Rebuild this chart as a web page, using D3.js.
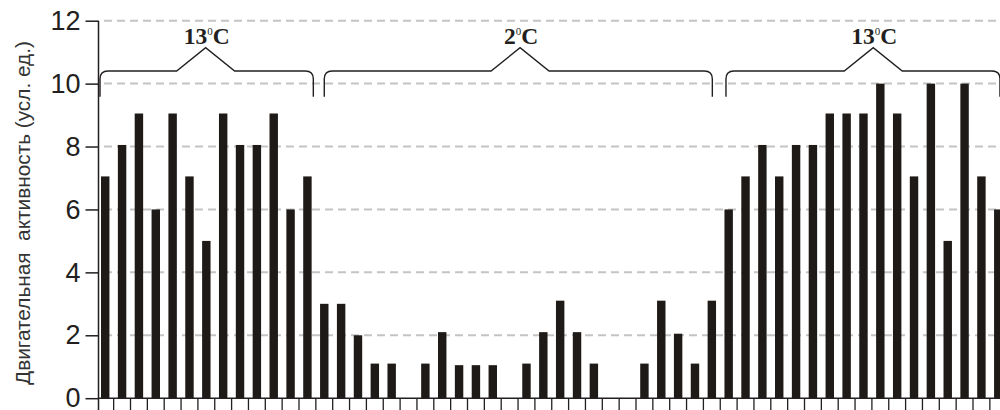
<!DOCTYPE html>
<html>
<head>
<meta charset="utf-8">
<script src="https://cdn.jsdelivr.net/npm/d3@7"></script>
<style>
  body { margin: 0; background: #fff; }
  svg { display: block; }
</style>
</head>
<body>
<div id="chart"></div>
<script>
// bar values (motor activity, arbitrary units)
const activity = [
  7.05, 8.05, 9.05, 6, 9.05, 7.05, 5, 9.05, 8.05, 8.05, 9.05, 6, 7.05,
  3, 3, 2, 1.1, 1.1, 0, 1.1, 2.1, 1.05, 1.05, 1.05, 0, 1.1, 2.1, 3.1, 2.1, 1.1, 0, 0, 1.1, 3.1, 2.05, 1.1, 3.1,
  6, 7.05, 8.05, 7.05, 8.05, 8.05, 9.05, 9.05, 9.05, 10, 9.05, 7.05, 10, 5, 10, 7.05, 6
];
const yTicks = [0, 2, 4, 6, 8, 10, 12];
const yLabel = 'Двигательная  активность (усл. ед.)';

// temperature periods (brace extents in bar-index units)
const periodTemp = ['13', '2', '13'];
const braceStart = [-0.31, 13.0, 36.84];
const braceEnd = [12.35, 36.03, 53.1];
const braceTip = [5.96, 24.62, 45.58];

const width = 1000;
const height = 410;
const ink = '#231f20';

const svg = d3.select('#chart')
  .append('svg')
  .attr('width', width)
  .attr('height', height);

// scales
const x = d3.scaleBand()
  .domain(d3.range(activity.length))
  .range([96.8, 96.8 + activity.length * 16.85])
  .paddingInner(0.5)
  .paddingOuter(0.25);

// index -> bar centre
const xi = d3.scaleLinear()
  .domain([0, 1])
  .range([x(0) + x.bandwidth() / 2, x(1) + x.bandwidth() / 2]);

const y = d3.scaleLinear()
  .domain([0, 12])
  .range([398.2, 20.7]);

const axisX = 98.5;

// grid lines
svg.append('g')
  .selectAll('line')
  .data(yTicks.filter(d => d > 0))
  .enter()
  .append('line')
  .attr('x1', 104)
  .attr('x2', width)
  .attr('y1', d => y(d))
  .attr('y2', d => y(d))
  .style('stroke', '#c4c4c4')
  .style('stroke-width', 2)
  .style('stroke-dasharray', '8,5');

// bars
svg.append('g')
  .selectAll('rect')
  .data(activity)
  .enter()
  .append('rect')
  .attr('x', (d, i) => x(i))
  .attr('width', x.bandwidth())
  .attr('y', d => y(d))
  .attr('height', d => y(0) - y(d))
  .style('fill', '#1e1a17');

// y axis
const yAxis = d3.axisLeft(y)
  .tickValues(yTicks)
  .tickSize(13)
  .tickPadding(5);

const gy = svg.append('g')
  .attr('transform', `translate(${axisX},0)`)
  .call(yAxis);
gy.select('.domain').remove();
gy.selectAll('.tick line').style('stroke', ink).style('stroke-width', 1.5);
gy.selectAll('.tick text')
  .style('font-family', '"Liberation Sans", Arial, sans-serif')
  .style('font-size', '27px')
  .style('fill', ink);

svg.append('line')
  .attr('x1', axisX).attr('x2', axisX)
  .attr('y1', y(12)).attr('y2', height)
  .style('stroke', ink)
  .style('stroke-width', 1.5);

// x axis: baseline and ticks between bars
svg.append('line')
  .attr('x1', axisX).attr('x2', width)
  .attr('y1', y(0)).attr('y2', y(0))
  .style('stroke', ink)
  .style('stroke-width', 1.5);

svg.append('g')
  .selectAll('line')
  .data(d3.range(1, activity.length + 1))
  .enter()
  .append('line')
  .attr('x1', i => x(i - 1) + x.step() * 0.75)
  .attr('x2', i => x(i - 1) + x.step() * 0.75)
  .attr('y1', y(0))
  .attr('y2', height)
  .style('stroke', ink)
  .style('stroke-width', 1.3);

// y label
svg.append('text')
  .attr('transform', 'translate(30,213) rotate(-90)')
  .attr('text-anchor', 'middle')
  .style('font-family', '"Liberation Sans", Arial, sans-serif')
  .style('font-size', '20.8px')
  .style('fill', '#333')
  .style('white-space', 'pre')
  .text(yLabel);

// braces with temperature labels
const braceY = 71;
const braceEndY = 96.7;
const tipY = 47.7;
const r = 8;
const shoulder = 29;

function bracePath(x0, x1, xt) {
  const p = d3.path();
  p.moveTo(x0, braceEndY);
  p.lineTo(x0, braceY + r);
  p.quadraticCurveTo(x0, braceY, x0 + r, braceY);
  p.lineTo(xt - shoulder, braceY);
  p.lineTo(xt, tipY);
  p.lineTo(xt + shoulder, braceY);
  p.lineTo(x1 - r, braceY);
  p.quadraticCurveTo(x1, braceY, x1, braceY + r);
  p.lineTo(x1, braceEndY);
  return p.toString();
}

const braces = svg.append('g');
periodTemp.forEach((t, k) => {
  const x0 = xi(braceStart[k]);
  const x1 = xi(braceEnd[k]);
  const xt = xi(braceTip[k]);

  braces.append('path')
    .attr('d', bracePath(x0, x1, xt))
    .style('fill', 'none')
    .style('stroke', ink)
    .style('stroke-width', 1.4);

  const label = braces.append('text')
    .attr('x', xt + 1)
    .attr('y', 44)
    .attr('text-anchor', 'middle')
    .style('font-family', '"Liberation Serif", "Times New Roman", serif')
    .style('font-weight', 'bold')
    .style('font-size', '23.5px')
    .style('fill', ink);
  label.append('tspan').text(t);
  label.append('tspan')
    .attr('dy', -9)
    .style('font-size', '11px')
    .style('font-weight', 'normal')
    .text('0');
  label.append('tspan')
    .attr('dy', 9)
    .text('C');
});
</script>
</body>
</html>
